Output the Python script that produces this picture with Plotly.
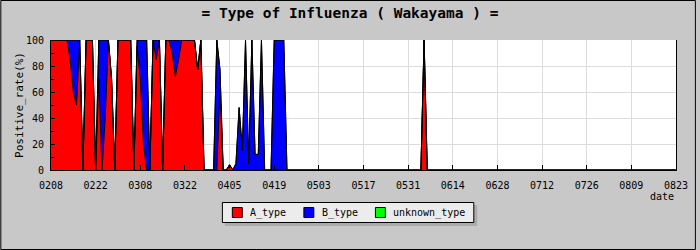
import plotly.graph_objects as go

# ---- data (year 2010, non-leap) ----
dates = [
    "0208","0209","0210","0211","0212","0213","0214","0215","0216","0217",
    "0218","0219","0220","0221","0222","0223","0224","0225","0226","0227",
    "0228","0301","0302","0303","0304","0305","0306","0307","0308","0309",
    "0310","0311","0312","0313","0314","0315","0316","0317","0318","0319",
    "0320","0321","0322","0323","0324","0325","0326","0327","0328","0329",
    "0330","0331","0401","0402","0403","0404","0405","0406","0407","0408",
    "0409","0410","0411","0412","0413","0414","0415","0416","0417","0418",
    "0419","0420","0421","0422","0423","0604","0605","0606","0823",
]
a_type = [
    100,100,100,100,100,100,85,60,50,100,
    0,100,100,100,0,70,0,40,100,70,
    0,100,100,100,100,100,0,95,70,20,
    0,0,100,85,100,0,100,100,90,72,
    85,100,100,100,100,100,77,100,0,0,
    0,0,0,62,0,0,4,0,0,0,
    0,0,0,0,0,0,0,0,0,0,
    0,0,0,0,0,0,100,0,0,
]
b_type = [
    0,0,0,0,0,0,15,40,50,0,
    0,0,0,0,0,30,100,60,0,0,
    0,0,0,0,0,0,0,5,30,80,
    100,0,0,15,0,0,0,0,10,28,
    15,0,0,0,0,0,0,0,0,0,
    0,0,100,15,0,0,0,0,5,48,
    15,100,5,100,12,12,100,0,0,0,
    100,100,100,100,0,0,0,0,0,
]
unknown_type = [
    0,0,0,0,0,0,0,0,0,0,
    0,0,0,0,0,0,0,0,0,0,
    0,0,0,0,0,0,0,0,0,0,
    0,0,0,0,0,0,0,0,0,0,
    0,0,0,0,0,0,0,0,0,0,
    0,0,0,0,0,0,0,0,0,0,
    0,0,0,0,0,0,0,0,0,0,
    0,0,0,0,0,0,0,0,0,
]
series_names = ["A_type", "B_type", "unknown_type"]
series_colors = ["#ff0000", "#0000ff", "#00ff00"]
x_start, x_end = "0208", "0823"
YEAR = "2010"

def to_date(md):
    return f"{YEAR}-{md[:2]}-{md[2:]}"

xd = [to_date(d) for d in dates]
MONO = "DejaVu Sans Mono"

fig = go.Figure()
for name, vals, col in zip(series_names, [a_type, b_type, unknown_type], series_colors):
    fig.add_trace(go.Scatter(
        x=xd, y=vals, name=name, stackgroup="one", mode="lines",
        line=dict(color="black", width=1), fillcolor=col,
        showlegend=False, hoverinfo="skip",
    ))

L, R, T, B = 51, 20, 40, 80
PW, PH = 700 - L - R, 250 - T - B

def px(xp):
    return (xp - L) / PW

def py(yp):
    return (T + PH - yp) / PH

shapes = [
    # outer frame
    dict(type="rect", xref="paper", yref="paper", x0=px(0.5), x1=px(699.5), y0=py(249.5), y1=py(0.5),
         line=dict(color="black", width=1), fillcolor="rgba(0,0,0,0)", layer="below"),
    # legend shadow
    dict(type="rect", xref="paper", yref="paper", x0=px(226), x1=px(480), y0=py(226), y1=py(205),
         line=dict(width=0), fillcolor="#acacac", layer="above"),
    # legend box
    dict(type="rect", xref="paper", yref="paper", x0=px(223.5), x1=px(476.5), y0=py(222.5), y1=py(202.5),
         line=dict(color="black", width=1), fillcolor="#ececec", layer="above"),
]
annotations = [
    dict(text="date", xref="paper", yref="paper", x=1, xanchor="right",
         y=py(196), yanchor="middle", showarrow=False, font=dict(family=MONO, size=10)),
]
# legend entries (manual, positioned like the reference)
swatch_left = [233.5, 305.5, 377.5]
for name, col, sx in zip(series_names, series_colors, swatch_left):
    shapes.append(dict(type="rect", xref="paper", yref="paper", x0=px(sx), x1=px(sx + 10),
                       y0=py(217.5), y1=py(207.5), line=dict(color="black", width=1),
                       fillcolor=col, layer="above"))
    annotations.append(dict(text=name, xref="paper", yref="paper", x=px(sx + 16), xanchor="left",
                            y=py(212.5), yanchor="middle", showarrow=False,
                            font=dict(family=MONO, size=10)))

fig.update_layout(
    width=700, height=250,
    margin=dict(l=L, r=R, t=T, b=B),
    paper_bgcolor="#c8c8c8", plot_bgcolor="white",
    font=dict(family=MONO, size=10, color="black"),
    title=dict(text="<b>= Type of Influenza ( Wakayama ) =</b>", x=0.5, xanchor="center",
               y=1 - 13 / 250, yanchor="middle", font=dict(family=MONO, size=14.5)),
    xaxis=dict(
        type="date", range=[to_date(x_start), to_date(x_end)],
        tick0=to_date(x_start), dtick=14 * 86400000, tickformat="%m%d",
        ticks="inside", ticklen=5, tickcolor="black", showline=True, linecolor="black",
        showgrid=True, gridcolor="#dcdcdc", gridwidth=1, zeroline=False,
        ticklabelstandoff=6, tickfont=dict(family=MONO, size=10),
    ),
    yaxis=dict(
        range=[0, 100], dtick=20, ticks="inside", ticklen=4, tickcolor="black",
        minor=dict(dtick=10, ticks="inside", ticklen=4, tickcolor="black", showgrid=False),
        showline=True, linecolor="black", mirror=True,
        showgrid=True, gridcolor="#dcdcdc", gridwidth=1, zeroline=False,
        ticklabelstandoff=4, tickfont=dict(family=MONO, size=10),
        title=dict(text="Positive_rate(%)", font=dict(family=MONO, size=11), standoff=0),
    ),
    showlegend=False,
    shapes=shapes,
    annotations=annotations,
)

fig.write_html("out.html")
